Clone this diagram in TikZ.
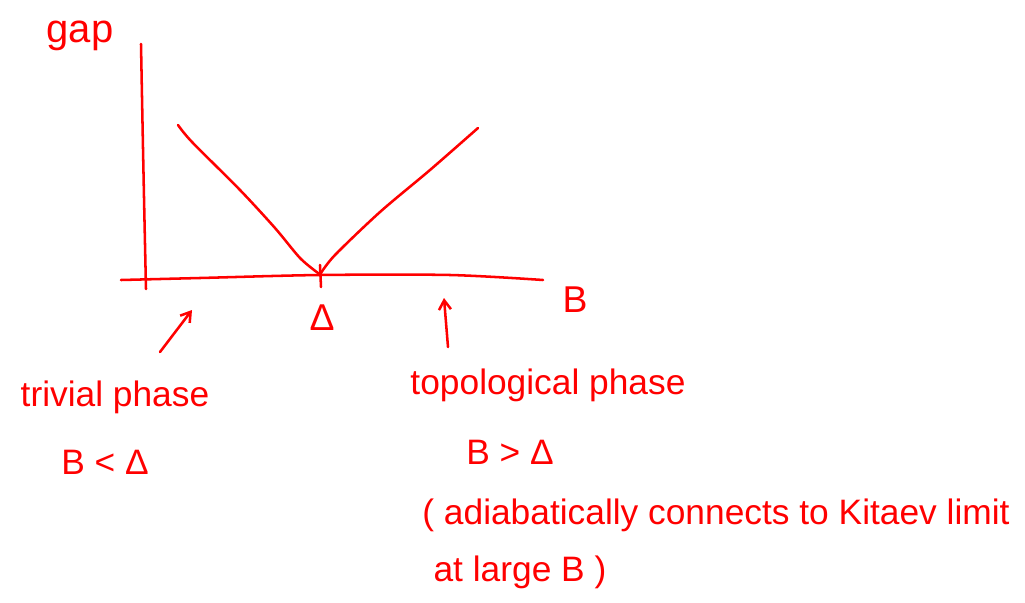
\documentclass[tikz,border=0pt]{standalone}
\usepackage{fontspec}
\setmainfont{Liberation Sans}
\usetikzlibrary{arrows.meta}
\definecolor{pen}{RGB}{255,0,0}
\tikzset{
  ink/.style={draw=pen, line width=1.9pt, line cap=round, line join=round},
  lbl/.style={text=pen, inner sep=0pt, font=\fontsize{26.5}{28}\selectfont},
  bigl/.style={text=pen, inner sep=0pt, font=\fontsize{28}{30}\selectfont},
  arr/.style={ink, -{Straight Barb[length=7pt,width=9pt]}}
}
\begin{document}
\begin{tikzpicture}[x=0.75pt,y=-0.75pt]
\useasboundingbox (0,0) rectangle (1025,603);
% axes
\draw[ink] (141,44) .. controls (143,150) and (144,200) .. (146,289);
\draw[ink] plot[smooth] coordinates {(121,280) (200,278) (320,275) (450,275) (543,280)};
\draw[ink] (320,265) -- (321,287);
% curve
\draw[ink] plot[smooth] coordinates {(178,125) (192,142) (240,190) (275,228) (300,258) (318,273)};
\draw[ink] plot[smooth] coordinates {(321,273) (335,255) (380,212) (430,170) (478,128)};
% labels
\node[lbl, font=\fontsize{30}{32}\selectfont] (gap) at (80,36) {gap};
\node[bigl] (B) at (575,300) {B};
\node[bigl] (D) at (322,318) {Δ};
\node[lbl] (triv) at (115,397) {trivial phase};
\node[lbl] (bl) at (105,462) {B < Δ};
\node[lbl] (topo) at (548,385) {topological phase};
\node[lbl] (bg) at (510,452) {B > Δ};
\node[lbl] (ad1) at (716,515) {( adiabatically connects to Kitaev limit};
\node[lbl] (ad2) at (520,572) {at large B )};
% arrows
\coordinate (a1s) at (160,352);
\coordinate (a1e) at (192,310);
\coordinate (a2s) at (448,347);
\coordinate (a2e) at (444,298);
\draw[arr] (a1s) -- (a1e);
\draw[arr] (a2s) -- (a2e);
\end{tikzpicture}
\end{document}
